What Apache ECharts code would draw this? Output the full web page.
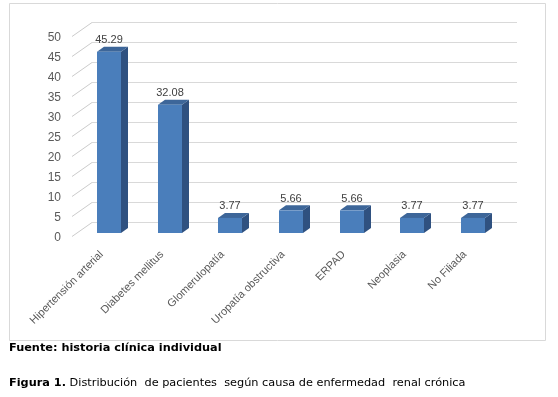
<!DOCTYPE html>
<html>
<head>
<meta charset="utf-8">
<script src="https://cdn.jsdelivr.net/npm/echarts@6/dist/echarts.min.js"></script>
<style>
  html, body { margin: 0; padding: 0; background: #fff; }
  #chart { width: 558px; height: 397px; }
</style>
</head>
<body>
<div id="chart"></div>
<script>
const categories = [
  'Hipertensión arterial',
  'Diabetes mellitus',
  'Glomerulopatía',
  'Uropatía obstructiva',
  'ERPAD',
  'Neoplasia',
  'No Filiada'
];
const values = [45.29, 32.08, 3.77, 5.66, 5.66, 3.77, 3.77];
const yTicks = [0, 5, 10, 15, 20, 25, 30, 35, 40, 45, 50];

const sourceText = 'Fuente: historia clínica individual';
const figureLabel = 'Figura 1.';
const figureText = ' Distribución  de pacientes  según causa de enfermedad  renal crónica';

// 3d look: bar depth and wall offsets (px)
const DEPTH_X = 7, DEPTH_Y = -5;
const BAR_W = 24;

const chart = echarts.init(document.getElementById('chart'));

// back wall + side wall gridlines, with the tick label at the front edge
function renderWall(params, api) {
  const cs = params.coordSys;
  const v = api.value(0);
  const y = api.coord([0, v])[1];
  const left = cs.x, right = cs.x + cs.width;
  return {
    type: 'group',
    children: [
      {
        type: 'line',
        shape: { x1: left - 7, y1: y + 3.5, x2: left + 13, y2: y - 10.5 },
        style: { stroke: '#cccccc', lineWidth: 1 }
      },
      {
        type: 'line',
        shape: { x1: left + 13, y1: y - 10.5, x2: right + 14, y2: y - 10.5 },
        style: { stroke: '#d9d9d9', lineWidth: 1 }
      },
      {
        type: 'text',
        style: {
          x: left - 18, y: y + 5,
          text: String(v), align: 'right', verticalAlign: 'middle',
          fill: '#595959', font: '12px "Liberation Sans", Arial, sans-serif'
        }
      }
    ]
  };
}

function renderBar(params, api) {
  const top = api.coord([api.value(0), api.value(1)]);
  const base = api.coord([api.value(0), 0]);
  const x0 = Math.round(top[0] - BAR_W / 2), x1 = x0 + BAR_W;
  const yt = top[1], yb = base[1];
  return {
    type: 'group',
    children: [
      {
        type: 'polygon',
        shape: { points: [[x1, yt], [x1 + DEPTH_X, yt + DEPTH_Y], [x1 + DEPTH_X, yb + DEPTH_Y], [x1, yb]] },
        style: { fill: '#2f5180' }
      },
      {
        type: 'polygon',
        shape: { points: [[x0, yt], [x0 + DEPTH_X, yt + DEPTH_Y], [x1 + DEPTH_X, yt + DEPTH_Y], [x1, yt]] },
        style: { fill: '#3d6699' }
      },
      {
        type: 'rect',
        shape: { x: x0, y: yt, width: BAR_W, height: yb - yt },
        style: { fill: '#4a7ebb' }
      },
      {
        type: 'text',
        style: {
          x: (x0 + x1) / 2, y: yt + DEPTH_Y - 1,
          text: api.value(1).toFixed(2),
          align: 'center', verticalAlign: 'bottom',
          fill: '#404040', font: '11px "Liberation Sans", Arial, sans-serif'
        }
      }
    ]
  };
}

chart.setOption({
  animation: false,
  grid: { left: 79, right: 55, top: 33, bottom: 164 },
  xAxis: {
    type: 'category',
    data: categories,
    axisLine: { show: false },
    axisTick: { show: false },
    axisLabel: {
      interval: 0, rotate: 45, margin: 12, padding: [0, 11, 0, 0],
      color: '#595959', fontSize: 11, fontFamily: '"Liberation Sans", Arial, sans-serif'
    }
  },
  yAxis: {
    type: 'value',
    min: 0, max: 50, interval: 5,
    axisLine: { show: false },
    axisTick: { show: false },
    splitLine: { show: false },
    axisLabel: { show: false }
  },
  graphic: [
    {
      type: 'rect', silent: true, z: -10,
      shape: { x: 9.5, y: 3.5, width: 536, height: 337 },
      style: { fill: '#fff', stroke: '#d9d9d9', lineWidth: 1 }
    },
    {
      type: 'text', left: 9, top: 343,
      style: {
        text: sourceText, fill: '#000',
        font: 'bold 11.3px "DejaVu Sans", Verdana, sans-serif'
      }
    },
    {
      type: 'text', left: 9, top: 378,
      style: {
        text: '{b|' + figureLabel + '}' + figureText,
        fill: '#000',
        font: '11.3px "DejaVu Sans", Verdana, sans-serif',
        rich: { b: { fontWeight: 'bold', fontSize: 11.3, fontFamily: '"DejaVu Sans", Verdana, sans-serif' } }
      }
    }
  ],
  series: [
    {
      type: 'custom',
      renderItem: renderWall,
      data: yTicks.map(v => [v]),
      encode: { y: 0 },
      silent: true,
      z: 1
    },
    {
      type: 'custom',
      renderItem: renderBar,
      data: values.map((v, i) => [i, v]),
      encode: { x: 0, y: 1 },
      z: 2
    }
  ]
});
</script>
</body>
</html>
